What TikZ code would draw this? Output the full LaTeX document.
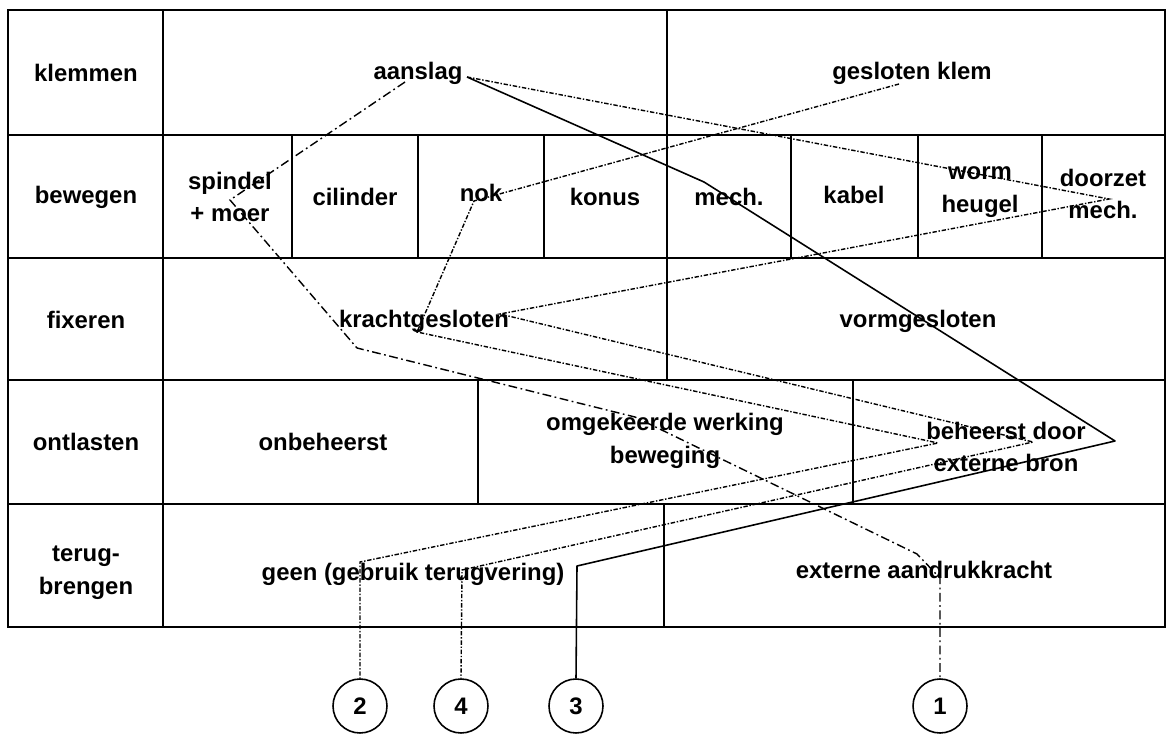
\documentclass[tikz,border=0pt]{standalone}
\usepackage{fontspec}
\setmainfont{Liberation Sans}
\usetikzlibrary{positioning}

\begin{document}
\begin{tikzpicture}[x=0.02cm,y=-0.02cm,
    cell/.style={font=\bfseries\fontsize{13.6}{18.7}\selectfont,align=center,inner sep=0pt},
    grid/.style={line width=1pt},
    route/.style={line width=0.9pt,line join=round},
    dashroute/.style={line width=0.8pt,dash pattern=on 5pt off 2pt on 1pt off 2pt},
    fineroute/.style={line width=0.8pt,dash pattern=on 2.5pt off 1pt on 0.8pt off 1pt},
    num/.style={circle,draw,line width=0.9pt,minimum size=1.08cm,inner sep=0pt,
                font=\bfseries\fontsize{13.6}{16}\selectfont}]
    \useasboundingbox (0,0) rectangle (1168,736);
    % table
    \draw[grid] (8,10) rectangle (1165,627);
    \foreach \y in {135,258,380,504}
        \draw[grid] (8,\y) -- (1165,\y);
    \draw[grid] (163,10) -- (163,627);
    \draw[grid] (667,10) -- (667,135);
    \foreach \x in {292,418,544,667,791,918,1042}
        \draw[grid] (\x,135) -- (\x,258);
    \draw[grid] (667,258) -- (667,380);
    \draw[grid] (478,380) -- (478,504);
    \draw[grid] (853,380) -- (853,504);
    \draw[grid] (664,504) -- (664,627);
    \begin{scope}[every node/.style={cell}]
    \node (klemmen) at (86,73) {klemmen};
    \node (bewegen) at (86,197) {bewegen};
    \node (fixeren) at (86,320) {fixeren};
    \node (ontlasten) at (86,442) {ontlasten};
    \node (terug) at (86,573) {terug-\\brengen};
    \node (aanslag) at (418,73) {aanslag};
    \node (gklem) at (912,73) {gesloten klem};
    \node (spindel) at (230,197) {spindel\\+ moer};
    \node (cilinder) at (355,197) {cilinder};
    \node (nok) at (481,193) {nok};
    \node (konus) at (605,197) {konus};
    \node (mech) at (729,197) {mech.};
    \node (kabel) at (854,195) {kabel};
    \node (worm) at (980,192) {worm\\heugel};
    \node (doorzet) at (1103,194) {doorzet\\mech.};
    \node (kracht) at (424,321) {krachtgesloten};
    \node (vorm) at (918,321) {vormgesloten};
    \node (onbeh) at (323,442) {onbeheerst};
    \node (omgek) at (665,441) {omgekeerde werking\\beweging};
    \node (beheerst) at (1006,447) {beheerst door\\externe bron};
    \node (geen) at (413,574) {geen (gebruik terugvering)};
    \node (extern) at (924,570) {externe aandrukkracht};
    \end{scope}
    % numbered circles
    \node[num] (c2) at (360,706) {2};
    \node[num] (c4) at (461,706) {4};
    \node[num] (c3) at (576,706) {3};
    \node[num] (c1) at (940,706) {1};
    % route points
    \coordinate (r1a) at (405,82);
    \coordinate (r1b) at (230,200);
    \coordinate (r1c) at (357,348);
    \coordinate (r1d) at (635,417);
    \coordinate (r1e) at (917,554);
    \coordinate (r1f) at (940,578);
    \coordinate (r2a) at (899,84);
    \coordinate (r2b) at (474,201);
    \coordinate (r2c) at (417,332);
    \coordinate (r2d) at (938,443);
    \coordinate (r2e) at (360,562);
    \coordinate (r3a) at (467,77);
    \coordinate (r3b) at (704,182);
    \coordinate (r3c) at (1115,441);
    \coordinate (r3d) at (577,566);
    \coordinate (r4a) at (467,77);
    \coordinate (r4b) at (1109,199);
    \coordinate (r4c) at (500,314);
    \coordinate (r4d) at (1033,442);
    \coordinate (r4e) at (462,570);
    % routes
    \draw[dashroute] (r1a) -- (r1b) -- (r1c) -- (r1d) -- (r1e) -- (r1f) -- (c1.north);
    \draw[fineroute] (r2a) -- (r2b) -- (r2c) -- (r2d) -- (r2e) -- (c2.north);
    \draw[route] (r3a) -- (r3b) -- (r3c) -- (r3d) -- (c3.north);
    \draw[fineroute] (r4a) -- (r4b) -- (r4c) -- (r4d) -- (r4e) -- (c4.north);
\end{tikzpicture}
\end{document}
